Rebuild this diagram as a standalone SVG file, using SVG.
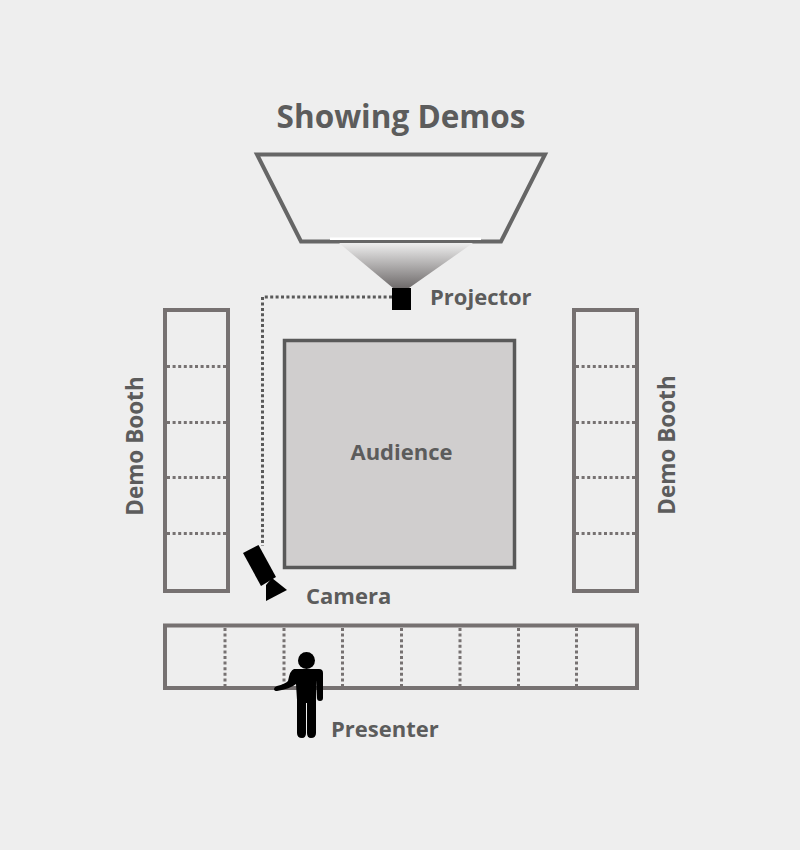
<svg xmlns="http://www.w3.org/2000/svg" width="800" height="850" viewBox="0 0 800 850">
<defs>
<linearGradient id="beam" x1="0" y1="0" x2="0" y2="1"><stop offset="0" stop-color="#eeeeee"/><stop offset="1" stop-color="#6f6b6b"/></linearGradient>
</defs>
<style>
.box{fill:none;stroke:#767171;stroke-width:4}
.div{fill:none;stroke:#767171;stroke-width:3;stroke-dasharray:3 2.600}
.lbl{font-family:"Open Sans","DejaVu Sans",sans-serif;font-weight:700;font-size:22px;fill:#5c5c5c}
</style>
<rect width="800" height="850" fill="#eeeeee"/>
<text class="lbl" x="401" y="128" text-anchor="middle" style="font-size:31.500px">Showing Demos</text>
<g id="screen">
<polygon points="257,154.500 545,154.500 501,241.500 301,241.500" fill="none" stroke="#666666" stroke-width="4"/>
<rect x="330" y="237.500" width="151" height="2.500" fill="#ffffff"/>
</g>
<g id="beam-light"><polygon points="339,243 473,243 409,288 393,288" fill="url(#beam)"/></g>
<g id="projector"><rect x="392" y="288" width="19" height="22" fill="#000000"/><text class="lbl" x="430" y="305">Projector</text></g>
<g id="audience"><rect x="284.500" y="340.500" width="230" height="227" fill="#d0cece" stroke="#595959" stroke-width="3.500"/><text class="lbl" x="401.500" y="460" text-anchor="middle">Audience</text></g>
<g id="booth-left">
<rect class="box" x="165" y="310" width="63" height="281"/>
<path class="div" d="M167 366.500H226M167 422.500H226M167 477.500H226M167 533.500H226"/>
<text class="lbl" transform="translate(143 446) rotate(-90)" text-anchor="middle" style="font-size:22.500px">Demo Booth</text>
</g>
<g id="booth-right">
<rect class="box" x="574" y="310" width="63" height="281"/>
<path class="div" d="M576 366.500H635M576 422.500H635M576 477.500H635M576 533.500H635"/>
<text class="lbl" transform="translate(675 445) rotate(-90)" text-anchor="middle" style="font-size:22.500px">Demo Booth</text>
</g>
<g id="booth-bottom">
<rect class="box" x="165" y="625.500" width="472" height="62.500"/>
<path class="div" d="M225 628V686M284 628V686M342.500 628V686M401.500 628V686M460 628V686M518.500 628V686M576.500 628V686"/>
</g>
<g id="connectors"><path d="M392 297H262.500V546" fill="none" stroke="#595959" stroke-width="3" stroke-dasharray="3 2.400"/></g>
<g id="camera">
<polygon points="243,553 258.500,545 276,577 261,586" fill="#000000"/>
<polygon points="266,585 272,578 287,590 266,601" fill="#000000"/>
<text class="lbl" x="306" y="604">Camera</text>
</g>
<g id="presenter">
<circle cx="306.500" cy="660.500" r="8.500" fill="#000000"/>
<path d="M294 669H319Q323 669 323 673V698Q323 701 320 701Q317 701 317 698V680L316 700V733Q316 738 311 738Q307 738 307 733V703H306V733Q306 738 302 738Q297 738 297 733V700L296 684Q290 689 277 691Q274 691 274 689Q274 687 277 686Q285 684 288 681Q290 670 294 669Z" fill="#000000"/>
<text class="lbl" x="331" y="737">Presenter</text>
</g>
</svg>
